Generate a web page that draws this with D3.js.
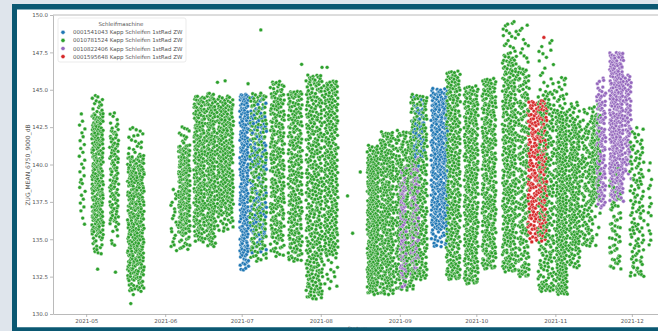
<!DOCTYPE html>
<html>
<head>
<meta charset="utf-8">
<script src="https://cdnjs.cloudflare.com/ajax/libs/d3/7.8.5/d3.min.js"></script>
<style>
  body { margin: 0; background: #dfe5ec; }
  text { font-family: "DejaVu Sans", sans-serif; }
</style>
</head>
<body>
<div id="chart"></div>
<script>

//////// data ////////

var machines = [
  "0001541043 Kapp Schleifen 1stRad ZW",
  "0010781524 Kapp Schleifen 1stRad ZW",
  "0010822406 Kapp Schleifen 1stRad ZW",
  "0001595648 Kapp Schleifen 1stRad ZW"
];
var colours = ["#1f77b4", "#2ca02c", "#9467bd", "#d62728"];

// read off the picture as runs of days:
// first day, last day, lowest, core low, core high, highest, point count, machine
var strips = [
  ["2021-04-28", "2021-04-30", 135.8, 136.8, 143.0, 144.0, 28, 1],
  ["2021-05-03", "2021-05-07", 134.0, 135.3, 143.4, 144.7, 260, 1],
  ["2021-05-10", "2021-05-13", 134.5, 136.0, 142.5, 143.6, 110, 1],
  ["2021-05-17", "2021-05-23", 131.5, 132.3, 140.6, 142.6, 320, 1],
  ["2021-06-03", "2021-06-05", 134.0, 134.5, 138.0, 138.5, 20, 1],
  ["2021-06-06", "2021-06-10", 134.3, 135.3, 141.3, 142.6, 200, 1],
  ["2021-06-12", "2021-06-16", 134.8, 135.6, 144.0, 144.6, 230, 1],
  ["2021-06-17", "2021-06-20", 134.5, 135.3, 144.2, 144.8, 200, 1],
  ["2021-06-21", "2021-06-27", 135.5, 136.6, 144.0, 144.6, 260, 1],
  ["2021-06-30", "2021-07-03", 132.9, 133.9, 144.3, 144.7, 220, 0],
  ["2021-07-04", "2021-07-10", 134.0, 135.0, 143.5, 144.6, 140, 0],
  ["2021-07-04", "2021-07-10", 133.5, 134.3, 144.2, 144.8, 220, 1],
  ["2021-07-12", "2021-07-17", 133.8, 135.0, 144.8, 145.6, 260, 1],
  ["2021-07-19", "2021-07-24", 133.5, 134.3, 144.5, 144.9, 260, 1],
  ["2021-07-26", "2021-08-01", 131.0, 131.8, 145.3, 146.0, 360, 1],
  ["2021-08-02", "2021-08-07", 131.6, 133.9, 145.0, 145.6, 260, 1],
  ["2021-08-19", "2021-08-23", 131.3, 132.0, 140.5, 141.3, 280, 1],
  ["2021-08-24", "2021-08-29", 131.3, 132.0, 141.5, 142.2, 290, 1],
  ["2021-08-30", "2021-09-06", 131.6, 132.3, 141.5, 142.3, 300, 1],
  ["2021-09-01", "2021-09-03", 131.5, 132.5, 139.0, 139.8, 100, 2],
  ["2021-09-05", "2021-09-08", 132.5, 133.5, 139.8, 140.5, 90, 2],
  ["2021-09-05", "2021-09-11", 132.3, 133.0, 144.0, 144.7, 300, 1],
  ["2021-09-06", "2021-09-10", 139.0, 140.5, 143.8, 144.5, 50, 0],
  ["2021-09-13", "2021-09-19", 134.5, 135.6, 144.5, 145.1, 320, 0],
  ["2021-09-19", "2021-09-24", 132.3, 133.0, 145.5, 146.3, 320, 1],
  ["2021-09-26", "2021-10-01", 132.0, 132.8, 144.5, 145.3, 320, 1],
  ["2021-10-03", "2021-10-08", 133.0, 133.8, 145.0, 145.8, 300, 1],
  ["2021-10-11", "2021-10-16", 132.8, 133.6, 147.3, 149.7, 340, 1],
  ["2021-10-17", "2021-10-21", 132.5, 133.0, 146.5, 149.5, 220, 1],
  ["2021-10-21", "2021-10-28", 134.8, 135.6, 143.8, 144.3, 260, 3],
  ["2021-10-25", "2021-10-31", 131.5, 132.0, 145.0, 148.5, 260, 1],
  ["2021-11-01", "2021-11-05", 131.3, 131.9, 143.6, 145.9, 290, 1],
  ["2021-11-06", "2021-11-10", 133.0, 134.0, 142.9, 144.3, 200, 1],
  ["2021-11-11", "2021-11-15", 134.5, 135.0, 142.6, 143.9, 120, 1],
  ["2021-11-15", "2021-11-18", 134.0, 137.5, 143.3, 144.1, 110, 1],
  ["2021-11-17", "2021-11-20", 137.0, 137.6, 144.8, 145.9, 120, 2],
  ["2021-11-22", "2021-11-27", 137.5, 138.3, 147.0, 147.5, 300, 2],
  ["2021-11-28", "2021-11-30", 139.0, 140.0, 145.5, 146.0, 80, 2],
  ["2021-11-22", "2021-11-26", 133.0, 133.3, 139.0, 140.0, 70, 1],
  ["2021-11-30", "2021-12-05", 132.5, 132.9, 141.6, 142.5, 120, 1],
  ["2021-12-07", "2021-12-08", 134.5, 135.0, 139.8, 140.5, 15, 1]
];

// single points standing apart: day, value, machine
var outliers = [
  ["2021-05-18", 130.7, 1], ["2021-05-19", 131.3, 1], ["2021-05-05", 133.0, 1],
  ["2021-05-12", 132.8, 1], ["2021-06-21", 145.5, 1], ["2021-06-24", 145.6, 1],
  ["2021-07-08", 149.0, 1], ["2021-07-03", 145.4, 1], ["2021-07-24", 146.7, 1],
  ["2021-08-01", 146.5, 1], ["2021-08-03", 146.5, 1], ["2021-08-11", 137.9, 1],
  ["2021-08-13", 135.4, 1], ["2021-08-16", 139.5, 1], ["2021-10-27", 148.5, 3]
];

var yTicks = [130.0, 132.5, 135.0, 137.5, 140.0, 142.5, 145.0, 147.5, 150.0];
var xTicks = ["2021-05", "2021-06", "2021-07", "2021-08", "2021-09", "2021-10", "2021-11", "2021-12"];

//////// svg ////////

var W = 658, H = 331;
var svg = d3.select("#chart").append("svg")
  .attr("width", W).attr("height", H);

// frame
svg.append("rect").attr("x", 12).attr("y", 4).attr("width", W).attr("height", H)
  .attr("fill", "#0b5872");
svg.append("rect").attr("x", 17).attr("y", 9.5).attr("width", W).attr("height", 318)
  .attr("fill", "#ffffff");

var parseDay = d3.timeParse("%Y-%m-%d");
var parseMonth = d3.timeParse("%Y-%m");

var x = d3.scaleTime()
  .domain([parseDay("2021-04-18"), parseDay("2021-12-14")])
  .range([53, 665]);
var y = d3.scaleLinear().domain([130, 150]).range([314, 15]);

//////// points ////////

function halton(i, b) {
  var f = 1, r = 0;
  while (i > 0) { f = f / b; r += f * (i % b); i = Math.floor(i / b); }
  return r;
}

var points = [];
strips.forEach(function(s, k) {
  // shifts run from morning of the first day to evening of the last
  var t0 = d3.timeHour.offset(parseDay(s[0]), 6).getTime();
  var t1 = d3.timeHour.offset(parseDay(s[1]), 18).getTime();
  for (var i = 0; i < s[6]; i++) {
    var u = halton(i + 1 + k * 31, 2), w = halton(i + 1 + k * 31, 3);
    var v;
    if (w < 0.06) v = s[2] + (w / 0.06) * (s[3] - s[2]);
    else if (w > 0.94) v = s[4] + ((w - 0.94) / 0.06) * (s[5] - s[4]);
    else v = s[3] + ((w - 0.06) / 0.88) * (s[4] - s[3]);
    points.push({ t: new Date(t0 + u * (t1 - t0)), v: v, m: s[7] });
  }
});
outliers.forEach(function(o) {
  points.push({ t: d3.timeHour.offset(parseDay(o[0]), 12), v: o[1], m: o[2] });
});
points.sort(function(a, b) { return a.t - b.t; });

svg.append("g").selectAll("circle")
  .data(points)
  .enter().append("circle")
  .attr("cx", function(d) { return x(d.t); })
  .attr("cy", function(d) { return y(d.v); })
  .attr("r", 1.9)
  .attr("fill", function(d) { return colours[d.m]; })
  .attr("stroke", "#ffffff")
  .attr("stroke-width", 0.4);

//////// axes ////////

var xAxis = svg.append("g")
  .attr("transform", "translate(0,314)")
  .call(d3.axisBottom(x)
    .tickValues(xTicks.map(parseMonth))
    .tickFormat(d3.timeFormat("%Y-%m"))
    .tickSize(3).tickSizeOuter(0).tickPadding(2));

var yAxis = svg.append("g")
  .attr("transform", "translate(53,0)")
  .call(d3.axisLeft(y)
    .tickValues(yTicks)
    .tickFormat(d3.format(".1f"))
    .tickSize(3).tickSizeOuter(0).tickPadding(2));

svg.append("line")
  .attr("x1", 53).attr("x2", 665).attr("y1", 15).attr("y2", 15)
  .attr("stroke", "#a8a8a8").attr("stroke-width", 0.8);

[xAxis, yAxis].forEach(function(a) {
  a.select(".domain").attr("stroke", "#a8a8a8").attr("stroke-width", 0.8);
  a.selectAll(".tick line").attr("stroke", "#a8a8a8").attr("stroke-width", 0.8);
  a.selectAll("text").attr("fill", "#555").style("font-size", "5.5px")
    .style("font-family", "DejaVu Sans");
});

svg.append("text")
  .attr("transform", "translate(30,165) rotate(-90)")
  .attr("text-anchor", "middle")
  .attr("fill", "#555").style("font-size", "6px")
  .text("ZUG_MEAN_6750_9000_dB");

svg.append("text")
  .attr("x", 358).attr("y", 331)
  .attr("text-anchor", "middle")
  .attr("fill", "#555").style("font-size", "6px")
  .text("Datum");

// the frame covers the bottom of the x label
svg.append("rect").attr("x", 12).attr("y", 327.5).attr("width", W).attr("height", 5)
  .attr("fill", "#0b5872");

//////// legend ////////

var legend = svg.append("g");
legend.append("rect")
  .attr("x", 58).attr("y", 18).attr("width", 128).attr("height", 44)
  .attr("rx", 2).attr("fill", "#ffffff").attr("fill-opacity", 0.85)
  .attr("stroke", "#dddddd").attr("stroke-width", 0.6);
legend.append("text")
  .attr("x", 121).attr("y", 25.5).attr("text-anchor", "middle")
  .attr("fill", "#555").style("font-size", "5.5px")
  .text("Schleifmaschine");

var items = legend.selectAll(".item")
  .data(machines)
  .enter().append("g")
  .attr("transform", function(d, i) { return "translate(0," + (32.3 + i * 8.1) + ")"; });
items.append("circle")
  .attr("cx", 63).attr("cy", 0).attr("r", 2.1)
  .attr("fill", function(d, i) { return colours[i]; })
  .attr("stroke", "#fff").attr("stroke-width", 0.45);
items.append("text")
  .attr("x", 73).attr("y", 2)
  .attr("fill", "#555").style("font-size", "5.5px")
  .text(function(d) { return d; });

</script>
</body>
</html>
